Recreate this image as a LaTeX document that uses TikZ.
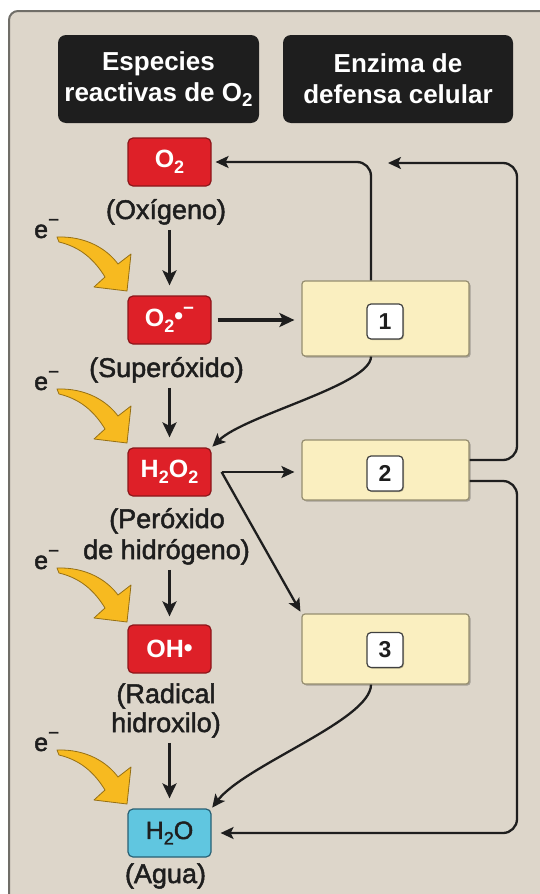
\documentclass[tikz,border=0pt]{standalone}
\usepackage{fontspec}
\usepackage{graphicx}
\setmainfont{Liberation Sans}
\newfontfamily\labfont[FakeBold=1.8]{Liberation Sans}
\usetikzlibrary{arrows.meta,shadows}

\definecolor{panel}{RGB}{221,214,202}
\definecolor{panelline}{RGB}{112,110,104}
\definecolor{hdr}{RGB}{30,30,30}
\definecolor{ros}{RGB}{222,32,40}
\definecolor{rosline}{RGB}{140,22,26}
\definecolor{waterfill}{RGB}{96,198,224}
\definecolor{waterline}{RGB}{40,96,116}
\definecolor{enz}{RGB}{250,239,192}
\definecolor{enzline}{RGB}{150,142,112}
\definecolor{ink}{RGB}{30,30,30}
\definecolor{elec}{RGB}{247,186,32}
\definecolor{elecline}{RGB}{150,112,20}

% chemistry helpers: lowered subscript digit, raised minus
\newcommand\dn[1]{\raisebox{-0.22em}{\scalebox{0.72}{#1}}}
\newcommand\upm{\raisebox{0.48em}{\scalebox{0.75}{−}}}

\tikzset{
  earrow/.pic={
    \fill[elec, draw=elecline, line width=0.8pt, line join=round]
      (57,237) .. controls (86,236) and (107,249) .. (118,264)
      -- (131,254) -- (127,291) -- (94,287) -- (105,277)
      .. controls (94,259) and (80,247) .. (59,242) -- cycle;
  }
}

\begin{document}
\begin{tikzpicture}[x=1pt,y=-1pt,
  header/.style={fill=hdr, rounded corners=8pt, text=white,
    font=\fontsize{26}{31}\selectfont\bfseries, align=center, inner sep=0pt},
  species/.style={fill=ros, draw=rosline, line width=1.2pt, rounded corners=5pt,
    minimum width=83pt, minimum height=48pt, text=white,
    font=\fontsize{25}{25}\selectfont\bfseries, inner sep=0pt},
  waterbox/.style={species, fill=waterfill, draw=waterline, text=ink,
    font=\labfont\fontsize{25}{25}\selectfont},
  spname/.style={font=\labfont\fontsize{27}{31}\selectfont, text=ink, inner sep=0pt, anchor=base},
  elabel/.style={font=\labfont\fontsize{25}{25}\selectfont, text=ink, inner sep=0pt, anchor=base west},
  enzyme/.style={fill=enz, draw=enzline, line width=1.2pt, rounded corners=3pt,
    minimum width=167pt, inner sep=0pt,
    drop shadow={shadow xshift=1.5pt, shadow yshift=-1.5pt, fill=black, opacity=0.25}},
  num/.style={fill=white, draw=ink!85, line width=1.2pt, rounded corners=4pt,
    minimum width=36pt, minimum height=35pt, inner sep=0pt,
    font=\fontsize{23}{23}\selectfont\bfseries, text=ink,
    drop shadow={shadow xshift=1pt, shadow yshift=-1pt, fill=black, opacity=0.25}},
  flow/.style={draw=ink, line width=2.3pt, -{Stealth[length=13pt,width=12pt,inset=3pt]}},
  heavyflow/.style={draw=ink, line width=3.2pt, -{Stealth[length=15pt,width=14pt,inset=3.5pt]}},
]
\useasboundingbox (0,0) rectangle (540,894);

% background panel
\fill[panel, rounded corners=9pt] (9,930) -- (9,11) -- (580,11) -- (580,930) -- cycle;
\draw[panelline, line width=2pt, rounded corners=9pt] (9,930) -- (9,11) -- (580,11);

% column headers
\node[header, minimum width=201pt, minimum height=88pt] (h1) at (158.5,79)
  {Especies\\reactivas de O\dn{2}};
\node[header, minimum width=230pt, minimum height=88pt] (h2) at (398,79)
  {Enzima de\\defensa celular};

% reactive species
\node[species] (o2)   at (169.5,162) {O\dn{2}};
\node[species] (sup)  at (169.5,320) {O\dn{2}\raisebox{0.1em}{•}\upm};
\node[species] (h2o2) at (169.5,472) {H\dn{2}O\dn{2}};
\node[species] (oh)   at (169.5,649) {OH\raisebox{0.05em}{•}};
\node[waterbox] (h2o) at (169.5,833) {H\dn{2}O};

% species names
\node[spname] (loxi)  at (166,219) {(Oxígeno)};
\node[spname] (lsup)  at (166.5,377) {(Superóxido)};
\node[spname] (lper1) at (167,528) {(Peróxido};
\node[spname] (lper2) at (166.5,559) {de hidrógeno)};
\node[spname] (lrad1) at (166,703) {(Radical};
\node[spname] (lrad2) at (166,732) {hidroxilo)};
\node[spname] (lagua) at (165.5,883) {(Agua)};

% electron inputs
\pic at (0,0) {earrow};
\pic at (0,152) {earrow};
\pic at (0,331) {earrow};
\pic at (0,513) {earrow};
\node[elabel] (e1lab) at (34,238) {e\upm};
\node[elabel] (e2lab) at (34,390) {e\upm};
\node[elabel] (e3lab) at (34,569) {e\upm};
\node[elabel] (e4lab) at (34,751) {e\upm};

% defence enzymes
\node[enzyme, minimum height=75pt] (e1) at (385.5,318.5) {};
\node[enzyme, minimum height=60pt] (e2) at (385.5,470) {};
\node[enzyme, minimum height=70pt] (e3) at (385.5,649) {};
\node[num] (n1) at (385,321.5) {1};
\node[num] (n2) at (385,473.5) {2};
\node[num] (n3) at (385,650) {3};

% reduction chain
\draw[heavyflow, shorten <=5pt, shorten >=10pt] (sup.north |- loxi.south) -- (sup.north);
\draw[heavyflow, shorten <=5pt, shorten >=10pt] (h2o2.north |- lsup.south) -- (h2o2.north);
\draw[heavyflow, shorten <=5pt, shorten >=8pt] (oh.north |- lper2.south) -- (oh.north);
\draw[heavyflow, shorten <=5pt, shorten >=10pt] (h2o.north |- lrad2.south) -- (h2o.north);

% substrates to enzymes
\draw[heavyflow, shorten <=6pt, shorten >=7pt] (sup.east) -- (sup.east -| e1.west);
\coordinate (hub) at ([xshift=10pt]h2o2.east);
\draw[flow, shorten >=7pt] (hub) -- (hub -| e2.west);
\draw[flow, shorten >=2pt] (hub) -- (e3.north west);

% products back to the species column
\coordinate (rtop) at (517,163);
\coordinate (ret)  at (388,163);
\coordinate (rbot) at (517,833);
\draw[flow, rounded corners=14pt, shorten >=4pt] ([xshift=-14.5pt]e1.north) |- (o2.east);
\draw[flow, rounded corners=14pt] ([yshift=10pt]e2.east) -| (rtop) -- (ret);
\draw[flow, rounded corners=14pt, shorten >=9pt] ([yshift=-11pt]e2.east) -| (rbot) -- (h2o.east);
\draw[flow, shorten >=1pt] ([xshift=-14.5pt]e1.south)
  .. controls (371,385) and (245,415) .. (h2o2.north east);
\draw[flow, shorten >=1pt] ([xshift=-14.5pt]e3.south)
  .. controls (371,720) and (245,765) .. (h2o.north east);
\end{tikzpicture}
\end{document}
